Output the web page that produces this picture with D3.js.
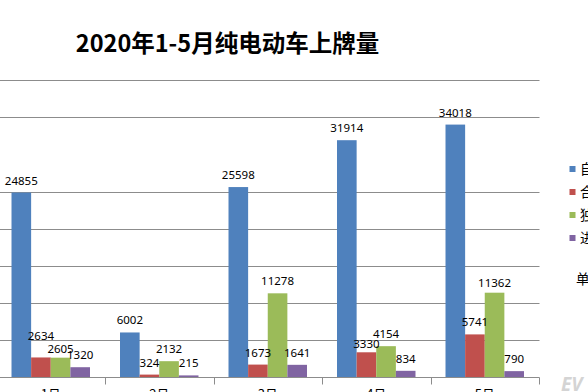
<!DOCTYPE html>
<html><head><meta charset="utf-8">
<script src="https://cdn.jsdelivr.net/npm/d3@7/dist/d3.min.js"></script>
<style>
html,body{margin:0;padding:0;background:#fff;overflow:hidden;}
svg{display:block;}
text{font-family:"Noto Sans","Noto Sans CJK SC",sans-serif;}
</style></head>
<body>
<svg id="chart" width="588" height="392"></svg>
<script>
const months = ["1月","2月","3月","4月","5月"];
const seriesNames = ["自主","合资","独资","进口"];
const ziZhu  = [24855, 6002, 25598, 31914, 34018];
const heZi   = [2634, 324, 1673, 3330, 5741];
const duZi   = [2605, 2132, 11278, 4154, 11362];
const jinKou = [1320, 215, 1641, 834, 790];
const gridTicks = [0, 5000, 10000, 15000, 20000, 25000, 35000, 40000];
const titleText = "2020年1-5月纯电动车上牌量";
const unitText = "单位：辆";

const colors = ["#4F81BD", "#C0504D", "#9BBB59", "#8064A2"];
const seriesValues = [ziZhu, heZi, duZi, jinKou];

const svg = d3.select("#chart");
const x0 = d3.scaleBand().domain(months).range([-3.5, 539]).paddingInner(0).paddingOuter(0);
const x1 = d3.scaleBand().domain(seriesNames).range([0, x0.bandwidth()]).paddingInner(0).paddingOuter(0.765);
const y = d3.scaleLinear().domain([0, 40000]).range([377, 80.2]);

// gridlines
svg.append("g").selectAll("line").data(gridTicks.filter(d => d > 0)).join("line")
  .attr("x1", -4).attr("x2", 539.5)
  .attr("y1", d => Math.round(y(d)) + 0.5).attr("y2", d => Math.round(y(d)) + 0.5)
  .attr("stroke", "#8c8c8c").attr("stroke-width", 1);

// bars
const rows = [];
months.forEach((m, i) => seriesNames.forEach((s, j) => rows.push({m, s, j, v: seriesValues[j][i]})));
svg.append("g").selectAll("rect").data(rows).join("rect")
  .attr("x", d => x0(d.m) + x1(d.s))
  .attr("width", x1.bandwidth())
  .attr("y", d => y(d.v))
  .attr("height", d => y(0) - y(d.v))
  .attr("fill", d => colors[d.j]);

// x axis
const xAxis = d3.axisBottom(x0).tickSize(0).tickFormat("");
const ax = svg.append("g").attr("transform", `translate(0,${Math.round(y(0)) + 0.5})`).call(xAxis);
ax.select(".domain").attr("stroke", "#8c8c8c").attr("d", "M-4,0H539.5");
const edges = months.map(m => x0(m)).concat([x0.range()[1]]);
ax.selectAll("line.sep").data(edges).join("line").attr("class", "sep")
  .attr("x1", d => Math.round(d) + 0.5).attr("x2", d => Math.round(d) + 0.5)
  .attr("y1", 0).attr("y2", 7).attr("stroke", "#8c8c8c");
ax.selectAll("text.cat").data(months).join("text").attr("class", "cat")
  .attr("x", d => x0(d) + x0.bandwidth() / 2).attr("y", 21.5)
  .attr("text-anchor", "middle").attr("font-size", 13).attr("fill", "#000")
  .style("font-family", '"Noto Sans CJK SC",sans-serif')
  .text(d => d);

// data labels
const nudge = {"合资|1月": -9, "独资|1月": 3.6, "合资|4月": 3.7, "独资|5月": 2};
svg.append("g").selectAll("text").data(rows).join("text")
  .attr("x", d => x0(d.m) + x1(d.s) + x1.bandwidth() / 2)
  .attr("y", d => y(d.v) - 8 + (nudge[d.s + "|" + d.m] || 0))
  .attr("text-anchor", "middle").attr("font-size", 11.5).attr("fill", "#000")
  .text(d => d.v);

// title
svg.append("text").attr("x", 227.5).attr("y", 52)
  .attr("text-anchor", "middle").attr("font-size", 23.5).attr("font-weight", "bold")
  .style("font-family", '"Noto Sans CJK SC",sans-serif').attr("fill", "#000")
  .text(titleText);

// legend
const lg = svg.append("g");
const legY = d3.scalePoint().domain(seriesNames).range([169, 238]);
lg.selectAll("rect").data(seriesNames).join("rect")
  .attr("x", 569.5).attr("y", d => legY(d) - 3).attr("width", 6).attr("height", 6)
  .attr("fill", (d, i) => colors[i]);
lg.selectAll("text").data(seriesNames).join("text")
  .attr("x", 580).attr("y", d => legY(d) + 5)
  .attr("font-size", 13.5).style("font-family", '"Noto Sans CJK SC",sans-serif')
  .attr("fill", "#000").text(d => d);
svg.append("text").attr("x", 576).attr("y", 284)
  .attr("font-size", 13.5).style("font-family", '"Noto Sans CJK SC",sans-serif')
  .attr("fill", "#000").text(unitText);

// watermark
svg.append("text").attr("x", 561).attr("y", 391)
  .attr("font-size", 19).attr("font-style", "italic").attr("font-weight", "bold")
  .attr("fill", "#d4d4d4").text("EV");
</script>
</body></html>
